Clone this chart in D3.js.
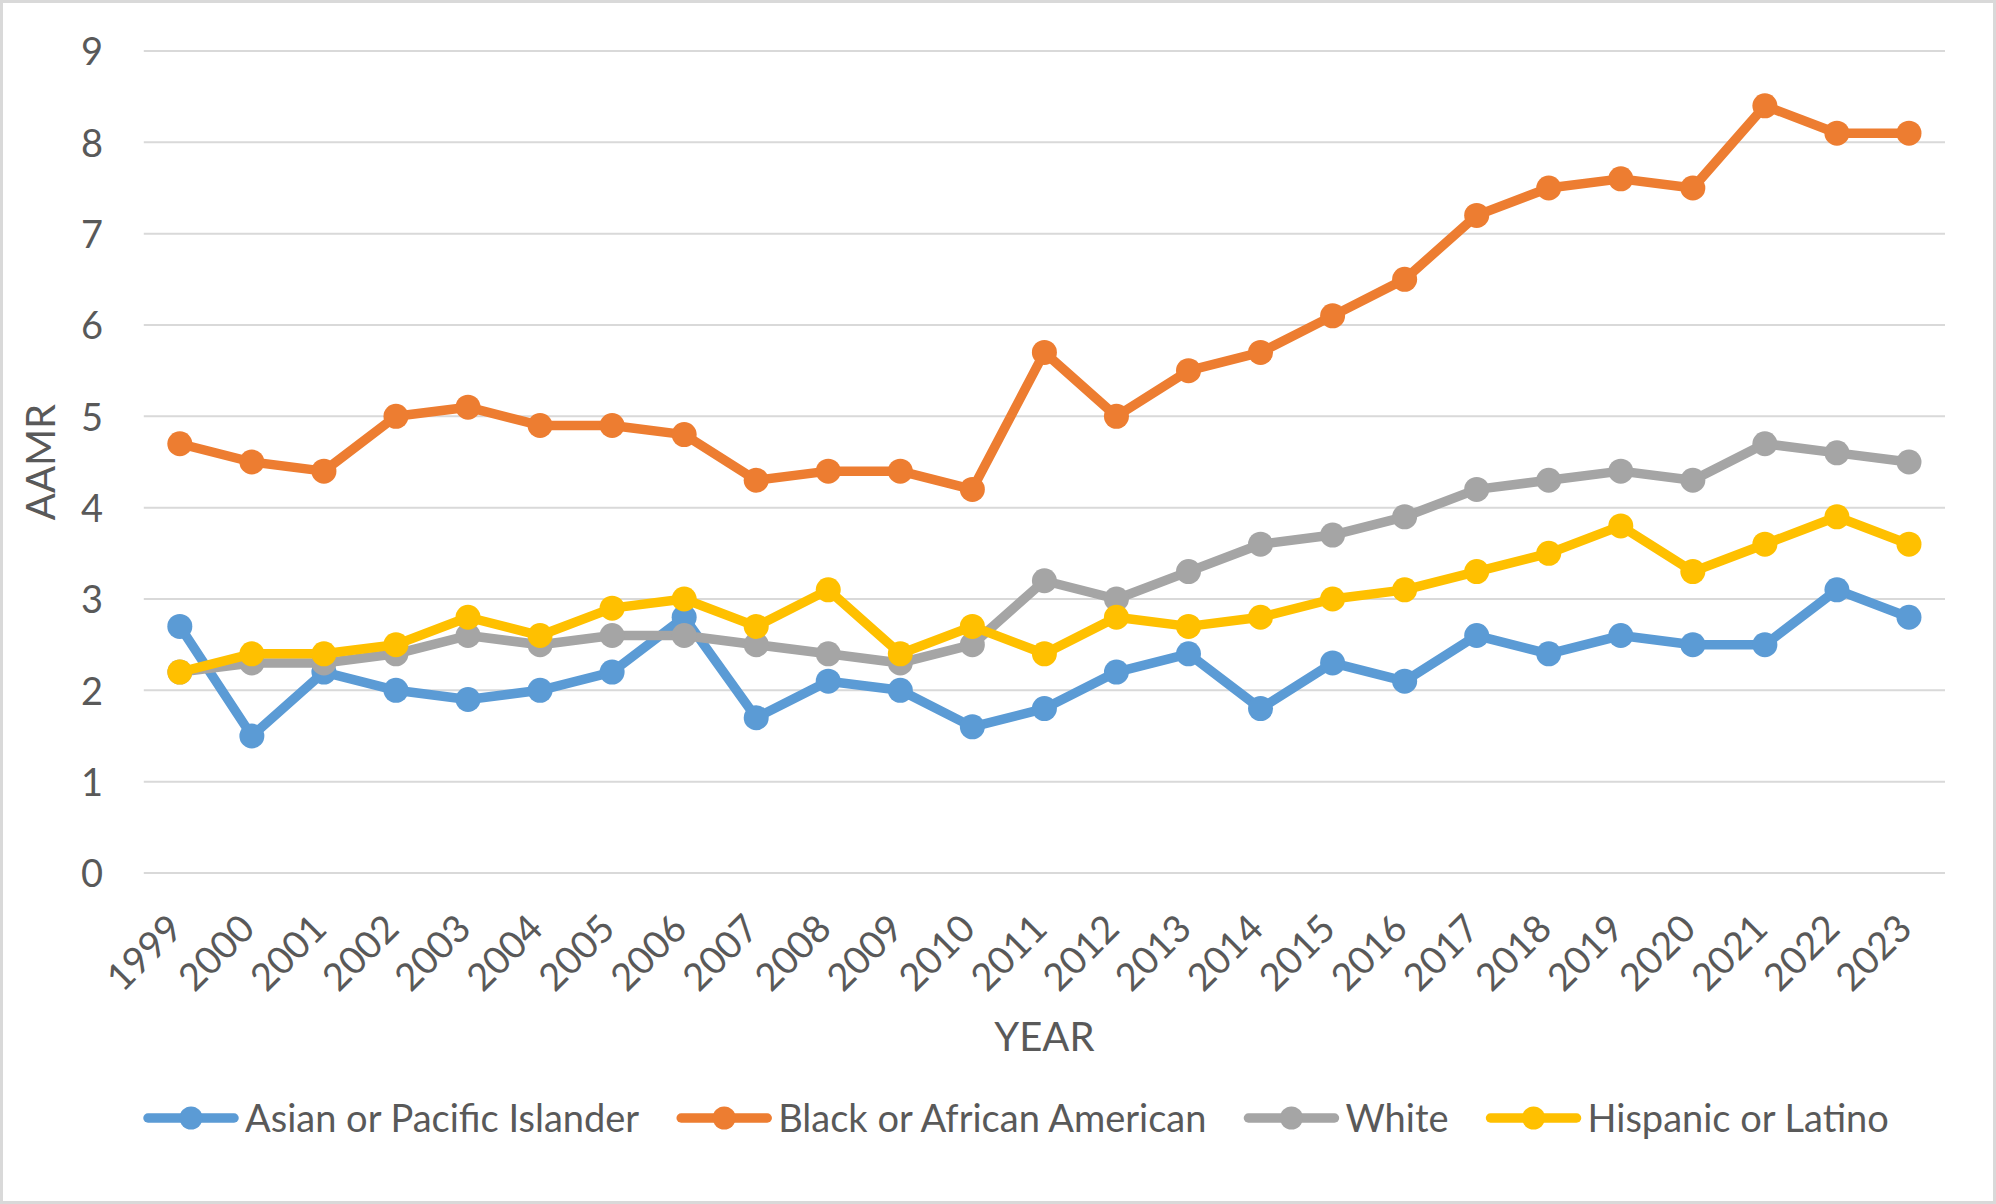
<!DOCTYPE html>
<html>
<head>
<meta charset="utf-8">
<script src="https://cdn.jsdelivr.net/npm/d3@7"></script>
<style>
  html, body { margin: 0; padding: 0; background: #fff; }
  svg { display: block; }
  text { font-family: Lato, "Open Sans", sans-serif; fill: #595959; }
</style>
</head>
<body>
<svg id="chart" width="1996" height="1204"></svg>
<script>
// ---------- data ----------
const years = ["1999","2000","2001","2002","2003","2004","2005","2006","2007","2008","2009","2010","2011","2012","2013","2014","2015","2016","2017","2018","2019","2020","2021","2022","2023"];
const asianPacific = [2.7,1.5,2.2,2.0,1.9,2.0,2.2,2.8,1.7,2.1,2.0,1.6,1.8,2.2,2.4,1.8,2.3,2.1,2.6,2.4,2.6,2.5,2.5,3.1,2.8];
const blackAfrican = [4.7,4.5,4.4,5.0,5.1,4.9,4.9,4.8,4.3,4.4,4.4,4.2,5.7,5.0,5.5,5.7,6.1,6.5,7.2,7.5,7.6,7.5,8.4,8.1,8.1];
const white        = [2.2,2.3,2.3,2.4,2.6,2.5,2.6,2.6,2.5,2.4,2.3,2.5,3.2,3.0,3.3,3.6,3.7,3.9,4.2,4.3,4.4,4.3,4.7,4.6,4.5];
const hispanic     = [2.2,2.4,2.4,2.5,2.8,2.6,2.9,3.0,2.7,3.1,2.4,2.7,2.4,2.8,2.7,2.8,3.0,3.1,3.3,3.5,3.8,3.3,3.6,3.9,3.6];
const seriesNames  = ["Asian or Pacific Islander","Black or African American","White","Hispanic or Latino"];
const seriesColors = ["#5B9BD5","#ED7D31","#A5A5A5","#FFC000"];
const yTicks = [0,1,2,3,4,5,6,7,8,9];
const xTitle = "YEAR";
const yTitle = "AAMR";

const seriesValues = [asianPacific, blackAfrican, white, hispanic];
const series = seriesNames.map((name, i) => ({name, color: seriesColors[i], values: seriesValues[i]}));

// ---------- layout ----------
const W = 1996, H = 1204;
const plot = {left: 143.8, right: 1945, top: 51, bottom: 873};
const tickFont = 38, titleFont = 40;
const svg = d3.select("#chart");

// border
svg.append("rect").attr("x",1.5).attr("y",1.5).attr("width",W-3).attr("height",H-3)
   .attr("fill","#fff").attr("stroke","#d9d9d9").attr("stroke-width",3);

const x = d3.scaleBand().domain(years).range([plot.left, plot.right]);
const cx = d => x(d) + x.bandwidth()/2;
const y = d3.scaleLinear().domain([0,9]).range([plot.bottom, plot.top]);

// gridlines
svg.append("g").selectAll("line").data(yTicks).join("line")
  .attr("x1", plot.left).attr("x2", plot.right)
  .attr("y1", d => y(d)).attr("y2", d => y(d))
  .attr("stroke","#d9d9d9").attr("stroke-width",2);

// y axis
const yAxis = svg.append("g").attr("transform","translate(103,0)")
  .call(d3.axisLeft(y).tickValues(yTicks).tickSize(0).tickPadding(0).tickFormat(d3.format("d")));
yAxis.select(".domain").remove();
yAxis.selectAll("text").attr("font-size",tickFont).attr("dy","0.36em")
  .style("font-family","Lato, sans-serif").attr("fill","#595959");

// x axis
const xAxis = svg.append("g").attr("transform",`translate(0,${plot.bottom})`)
  .call(d3.axisBottom(x).tickSize(0).tickPadding(0));
xAxis.select(".domain").remove();
xAxis.selectAll("text")
  .attr("y",0).attr("dy",0)
  .attr("text-anchor","end")
  .attr("transform","translate(5,58) rotate(-45)")
  .attr("font-size",tickFont)
  .style("font-family","Lato, sans-serif").attr("fill","#595959");

// axis titles
svg.append("text").attr("x",(plot.left+plot.right)/2).attr("y",1051)
  .attr("text-anchor","middle").attr("font-size",titleFont).text(xTitle);
svg.append("text").attr("transform",`translate(55,${(plot.top+plot.bottom)/2}) rotate(-90)`)
  .attr("text-anchor","middle").attr("font-size",titleFont).text(yTitle);

// series
const line = d3.line().x((d,i) => cx(years[i])).y(d => y(d));
series.forEach(s => {
  const g = svg.append("g");
  g.append("path").datum(s.values).attr("d", line)
    .attr("fill","none").attr("stroke", s.color).attr("stroke-width",9.5)
    .attr("stroke-linejoin","round").attr("stroke-linecap","round");
  g.selectAll("circle").data(s.values).join("circle")
    .attr("cx",(d,i) => cx(years[i])).attr("cy", d => y(d)).attr("r",12.5)
    .attr("fill", s.color);
});

// legend
const legY = 1118;
let lx = 143;
const legend = svg.append("g");
series.forEach(s => {
  const g = legend.append("g");
  g.append("line").attr("x1", lx+5).attr("x2", lx+91).attr("y1",legY).attr("y2",legY)
    .attr("stroke", s.color).attr("stroke-width",9.5).attr("stroke-linecap","round");
  g.append("circle").attr("cx", lx+48).attr("cy", legY).attr("r",11.5).attr("fill", s.color);
  const t = g.append("text").attr("x", lx+102).attr("y", legY).attr("dy","0.36em")
    .attr("font-size",tickFont).text(s.name);
  lx = lx + 102 + t.node().getComputedTextLength() + 37;
});
</script>
</body>
</html>
